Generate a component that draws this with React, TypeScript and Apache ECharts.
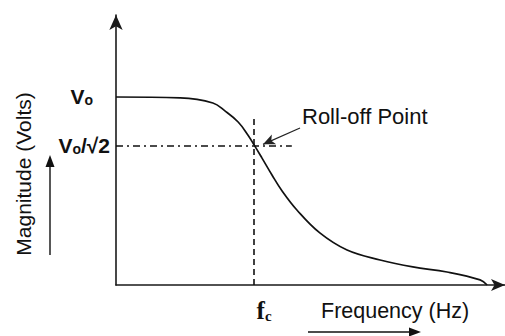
import React, { useEffect, useRef } from "react";
import * as echarts from "echarts";

// Normalised frequency (0..100 across the axis) and magnitude (Vo = 1)
const freq = [0, 16.5, 24.9, 28.0, 31.4, 33.9, 35.5, 37.5, 40.1, 42.7, 46.5, 52.4, 59.4, 67.9, 76.3, 85.1, 93.6, 95.4];
const magnitude = [1.0, 0.995, 0.968, 0.926, 0.867, 0.798, 0.745, 0.676, 0.585, 0.5, 0.399, 0.277, 0.186, 0.133, 0.096, 0.069, 0.027, 0.0];

const vo = 1.0;
const voRoot2 = 0.74;
const fc = 35.5;
const dashTopY = 0.888;
const dashRightX = 45.2;
const rollArrowFrom = [47.3, 0.835];
const rollArrowTo = [37.8, 0.748];

const yTickValues = [voRoot2, vo];
const xTickValues = [fc];

const FONT = "'Liberation Sans', Arial, sans-serif";

export default function App() {
  const ref = useRef<HTMLDivElement>(null);
  useEffect(() => {
    if (!ref.current) return;
    const chart = echarts.init(ref.current, null, { renderer: "svg" });
    const data = freq.map((f, i) => [f, magnitude[i]]);
    chart.setOption({
      animation: false,
      backgroundColor: "#ffffff",
      grid: { left: 116, right: 0, top: 15, bottom: 51, outerBoundsMode: "none", containLabel: false },
      xAxis: {
        type: "value",
        min: 0,
        max: 100,
        axisLine: {
          show: true,
          symbol: ["none", "arrow"],
          symbolSize: [9, 14],
          lineStyle: { color: "#1a1a1a", width: 1.6 },
        },
        axisTick: { show: false },
        splitLine: { show: false },
        axisLabel: {
          customValues: xTickValues,
          margin: 13,
          formatter: () => "{f|f}{c|c}",
          rich: {
            f: { fontFamily: "'Liberation Serif', 'Times New Roman', serif", fontWeight: "bold", fontSize: 25, color: "#111", padding: [0, 0, 0, 20] },
            c: { fontFamily: "'Liberation Serif', 'Times New Roman', serif", fontWeight: "bold", fontSize: 15, color: "#111", verticalAlign: "bottom", padding: [10, 0, 0, 0] },
          },
        },
      },
      yAxis: {
        type: "value",
        min: 0,
        max: 1.436,
        axisLine: {
          show: true,
          symbol: ["none", "arrow"],
          symbolSize: [10, 15],
          lineStyle: { color: "#1a1a1a", width: 1.6 },
        },
        axisTick: { show: false },
        splitLine: { show: false },
        axisLabel: {
          customValues: yTickValues,
          margin: 6,
          formatter: (v: number) => (v === vo ? "{v|V}{o|o}{p| }" : "{v|V}{o|o}{v|/√2}"),
          rich: {
            v: { fontFamily: FONT, fontWeight: "bold", fontSize: 21, color: "#111" },
            o: { fontFamily: FONT, fontWeight: "bold", fontSize: 14, color: "#111", verticalAlign: "bottom" },
            p: { width: 17 },
          },
        },
      },
      series: [
        {
          type: "line",
          data,
          smooth: 0.4,
          showSymbol: false,
          symbol: "none",
          lineStyle: { color: "#111", width: 1.7 },
          markLine: {
            silent: true,
            symbol: ["none", "none"],
            label: { show: false },
            data: [
              [
                { coord: [0, voRoot2], lineStyle: { type: [7, 4, 2, 4], color: "#111", width: 1.6 } },
                { coord: [dashRightX, voRoot2] },
              ],
              [
                { coord: [fc, 0], lineStyle: { type: [6, 4], color: "#111", width: 1.6 } },
                { coord: [fc, dashTopY] },
              ],
              [
                { coord: rollArrowFrom, symbol: "none", lineStyle: { type: "solid", color: "#222", width: 1.2 } },
                { coord: rollArrowTo, symbol: "arrow", symbolSize: [8, 12] },
              ],
            ],
          },
        },
      ],
      graphic: [
        {
          type: "text",
          left: 302,
          top: 105,
          style: { text: "Roll-off Point", fontFamily: FONT, fontSize: 22, fill: "#111" },
        },
        {
          type: "text",
          left: 321,
          top: 300,
          style: { text: "Frequency (Hz)", fontFamily: FONT, fontSize: 21.5, fill: "#111" },
        },
        {
          type: "text",
          x: 23,
          y: 174,
          rotation: Math.PI / 2,
          style: { text: "Magnitude (Volts)", fontFamily: FONT, fontSize: 21, fill: "#111", align: "center", verticalAlign: "middle" },
        },
        { type: "line", shape: { x1: 308, y1: 332, x2: 411, y2: 332 }, style: { stroke: "#111", lineWidth: 1.4 } },
        { type: "polygon", shape: { points: [[409, 327.5], [421, 332], [409, 336.5]] }, style: { fill: "#111" } },
        { type: "line", shape: { x1: 50, y1: 255, x2: 50, y2: 165 }, style: { stroke: "#111", lineWidth: 1.4 } },
        { type: "polygon", shape: { points: [[45.5, 167], [50, 155], [54.5, 167]] }, style: { fill: "#111" } },
      ],
    });
    return () => chart.dispose();
  }, []);
  return <div ref={ref} style={{ position: "fixed", left: 0, top: 0, width: 505, height: 336 }} />;
}
